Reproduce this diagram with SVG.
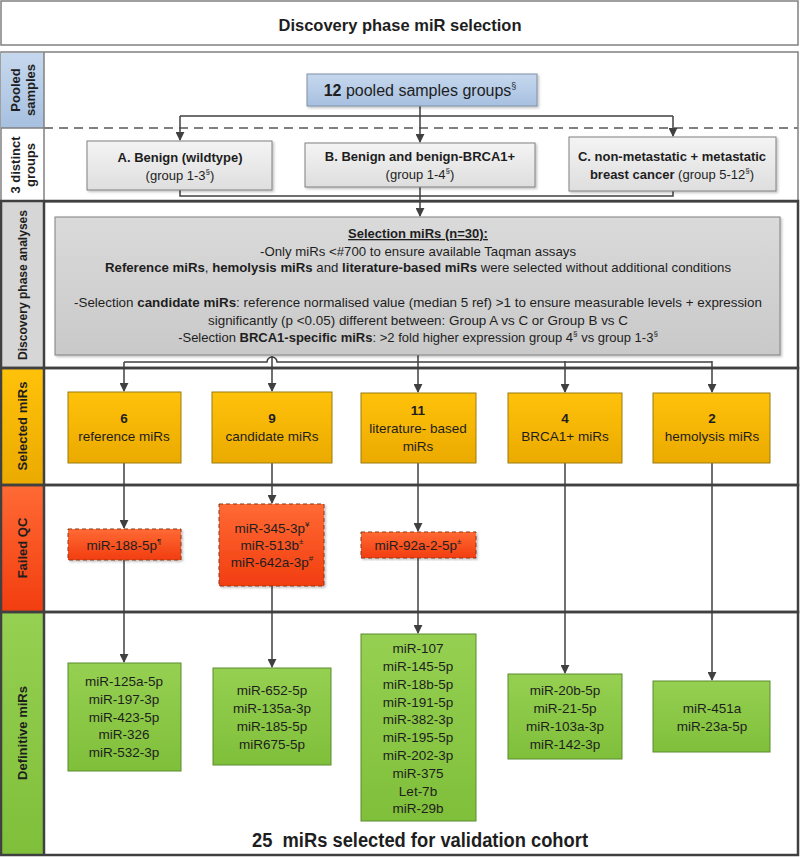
<svg xmlns="http://www.w3.org/2000/svg" width="800" height="857" viewBox="0 0 800 857">
<defs>
<style>
text{font-family:"Liberation Sans",Arial,sans-serif;fill:#1e1e1e;text-anchor:middle}
.lbl{font-weight:bold;font-size:13px}
.t{font-size:13.5px}
.g{font-size:13px}
.b{font-weight:bold}
.frame{fill:none;stroke:#808080;stroke-width:1.5}
.thick{fill:none;stroke:#404040;stroke-width:2.5}
.con{fill:none;stroke:#404040;stroke-width:1.5}
.arr{fill:none;stroke:#404040;stroke-width:1.5;marker-end:url(#ah)}
.grp{fill:url(#gGray);stroke:#808080;stroke-width:1}
.sel{fill:url(#gGold);stroke:#9a7b10;stroke-width:1}
.fail{fill:url(#gRed);stroke:#8c3a1c;stroke-width:1;stroke-dasharray:4,3}
.def{fill:url(#gGreen);stroke:#5b8c2e;stroke-width:1}
</style>
<marker id="ah" viewBox="0 0 10 10" refX="9" refY="5" markerWidth="6" markerHeight="6" orient="auto" markerUnits="strokeWidth"><path d="M0,0 L10,5 L0,10 z" fill="#404040"/></marker>
<linearGradient id="gGray" x1="0" y1="0" x2="0" y2="1"><stop offset="0" stop-color="#f4f4f4"/><stop offset="1" stop-color="#dedede"/></linearGradient>
<linearGradient id="gAna" x1="0" y1="0" x2="0" y2="1"><stop offset="0" stop-color="#dadada"/><stop offset="1" stop-color="#c9c9c9"/></linearGradient>
<linearGradient id="gBlue" x1="0" y1="0" x2="0" y2="1"><stop offset="0" stop-color="#c6d8ee"/><stop offset="1" stop-color="#a7c0e0"/></linearGradient>
<linearGradient id="gGold" x1="0" y1="0" x2="0" y2="1"><stop offset="0" stop-color="#ffc20a"/><stop offset="1" stop-color="#ebaa00"/></linearGradient>
<linearGradient id="gRed" x1="0" y1="0" x2="0" y2="1"><stop offset="0" stop-color="#ff6a34"/><stop offset="1" stop-color="#f23d10"/></linearGradient>
<linearGradient id="gGreen" x1="0" y1="0" x2="0" y2="1"><stop offset="0" stop-color="#96d052"/><stop offset="1" stop-color="#7fbf3a"/></linearGradient>
<filter id="sh" x="-5%" y="-5%" width="110%" height="115%"><feDropShadow dx="1.5" dy="1.5" stdDeviation="1" flood-color="#000" flood-opacity="0.25"/></filter>
</defs>
<rect width="800" height="857" fill="#ffffff"/>

<g id="title">
<rect x="1" y="1" width="797" height="44" class="frame"/>
<text x="400" y="31" font-size="16.5" class="b">Discovery phase miR selection</text>
</g>

<g id="frame">
<rect x="1" y="52" width="797" height="150" class="frame"/>
<rect x="1" y="53" width="43" height="75" fill="url(#gBlue)"/>
<rect x="1" y="201" width="43" height="167" fill="#d6d6d6"/>
<rect x="1" y="368" width="43" height="117" fill="url(#gGold)"/>
<rect x="1" y="485" width="43" height="127" fill="url(#gRed)"/>
<rect x="1" y="612" width="43" height="243" fill="url(#gGreen)"/>
<line x1="44" y1="52" x2="44" y2="201" stroke="#808080" stroke-width="1.5"/>
<line x1="1" y1="128" x2="44" y2="128" stroke="#808080" stroke-width="1.5"/>
<line x1="44" y1="128" x2="798" y2="128" stroke="#808080" stroke-width="2" stroke-dasharray="9,6"/>
<rect x="1" y="201" width="797" height="167" class="thick"/>
<rect x="1" y="368" width="797" height="117" class="thick"/>
<rect x="1" y="485" width="797" height="127" class="thick"/>
<rect x="1" y="612" width="797" height="243" class="thick"/>
<line x1="44" y1="201" x2="44" y2="855" stroke="#404040" stroke-width="2.5"/>
</g>

<g id="row-labels">
<text class="lbl" transform="translate(22,90) rotate(-90)"><tspan x="0" y="-2">Pooled</tspan><tspan x="0" y="13">samples</tspan></text>
<text class="lbl" transform="translate(22,165) rotate(-90)"><tspan x="0" y="-2">3 distinct</tspan><tspan x="0" y="13">groups</tspan></text>
<text class="lbl" transform="translate(22,285) rotate(-90)" y="5" textLength="150" lengthAdjust="spacingAndGlyphs">Discovery phase analyses</text>
<text class="lbl" transform="translate(22,426) rotate(-90)" y="5">Selected miRs</text>
<text class="lbl" transform="translate(22,548) rotate(-90)" y="5">Failed QC</text>
<text class="lbl" transform="translate(22,733) rotate(-90)" y="5">Definitive miRs</text>
</g>

<g id="connectors">
<path class="con" d="M420,106 V116 M180,116 H673"/>
<path class="arr" d="M180,116 V140"/>
<path class="arr" d="M420,116 V142"/>
<path class="arr" d="M673,116 V136"/>
<path class="con" d="M180,190 V196 H420 M673,191 V196 H420"/>
<path class="arr" d="M420,187 V216"/>
<path class="con" d="M418,355 V361 M124,362 H267 A5,5 0 0 1 277,362 H712"/>
<path class="arr" d="M124,362 V391"/>
<path class="arr" d="M272,356 V391"/>
<path class="arr" d="M418,361 V392"/>
<path class="arr" d="M565,361 V392"/>
<path class="arr" d="M712,361 V392"/>
<path class="arr" d="M124,463 V528"/>
<path class="arr" d="M272,463 V503"/>
<path class="arr" d="M418,463 V531"/>
<path class="arr" d="M124,560 V662"/>
<path class="arr" d="M272,586 V667"/>
<path class="arr" d="M418,558 V633"/>
<path class="arr" d="M565,463 V673"/>
<path class="arr" d="M712,463 V680"/>
</g>

<g id="pooled">
<rect x="307" y="74" width="230" height="32" fill="url(#gBlue)" stroke="#7f8fa6" stroke-width="1" filter="url(#sh)"/>
<text x="420" y="96" font-size="16"><tspan class="b">12</tspan> pooled samples groups<tspan font-size="9" dy="-7">§</tspan></text>
</g>

<g id="groupA">
<rect x="87" y="141" width="185" height="49" class="grp" filter="url(#sh)"/>
<text x="180" y="162" class="g b">A. Benign (wildtype)</text>
<text x="180" y="180" class="g">(group 1-3<tspan font-size="8" dy="-6">§</tspan><tspan dy="6">)</tspan></text>
</g>
<g id="groupB">
<rect x="305" y="143" width="230" height="44" class="grp" filter="url(#sh)"/>
<text x="420" y="161" class="g b">B. Benign and benign-BRCA1+</text>
<text x="420" y="179" class="g">(group 1-4<tspan font-size="8" dy="-6">§</tspan><tspan dy="6">)</tspan></text>
</g>
<g id="groupC">
<rect x="569" y="137" width="207" height="54" class="grp" filter="url(#sh)"/>
<text x="672" y="161" class="g b">C. non-metastatic + metastatic</text>
<text x="672" y="179" class="g"><tspan class="b">breast cancer</tspan> (group 5-12<tspan font-size="8" dy="-6">§</tspan><tspan dy="6">)</tspan></text>
</g>

<g id="analysis">
<rect x="55" y="217" width="725" height="138" fill="url(#gAna)" stroke="#808080" stroke-width="1" filter="url(#sh)"/>
<text x="418" y="238" class="g b" text-decoration="underline">Selection miRs (n=30):</text>
<text x="418" y="256" class="g" textLength="316" lengthAdjust="spacingAndGlyphs">-Only miRs &lt;#700 to ensure available Taqman assays</text>
<text x="418" y="272" class="g" textLength="626" lengthAdjust="spacingAndGlyphs"><tspan class="b">Reference miRs</tspan>, <tspan class="b">hemolysis miRs</tspan> and <tspan class="b">literature-based miRs</tspan> were selected without additional conditions</text>
<text x="418" y="307" class="g" textLength="688" lengthAdjust="spacingAndGlyphs">-Selection <tspan class="b">candidate miRs</tspan>: reference normalised value (median 5 ref) &gt;1 to ensure measurable levels + expression</text>
<text x="418" y="325" class="g" textLength="420" lengthAdjust="spacingAndGlyphs">significantly (p &lt;0.05) different between: Group A vs C or Group B vs C</text>
<text x="418" y="342" class="g">-Selection <tspan class="b">BRCA1-specific miRs</tspan>: &gt;2 fold higher expression group 4<tspan font-size="8" dy="-6">§</tspan><tspan dy="6"> vs group 1-3</tspan><tspan font-size="8" dy="-6">§</tspan></text>
</g>

<g id="sel-ref">
<rect x="68" y="392" width="113" height="71" class="sel"/>
<text x="124" y="423" class="t b">6</text>
<text x="124" y="441" class="t">reference miRs</text>
</g>
<g id="sel-cand">
<rect x="212" y="392" width="120" height="71" class="sel"/>
<text x="272" y="423" class="t b">9</text>
<text x="272" y="441" class="t">candidate miRs</text>
</g>
<g id="sel-lit">
<rect x="361" y="393" width="115" height="70" class="sel"/>
<text x="418" y="415" class="t b">11</text>
<text x="418" y="433" class="t">literature- based</text>
<text x="418" y="451" class="t">miRs</text>
</g>
<g id="sel-brca">
<rect x="508" y="393" width="114" height="70" class="sel"/>
<text x="565" y="423" class="t b">4</text>
<text x="565" y="441" class="t">BRCA1+ miRs</text>
</g>
<g id="sel-hemo">
<rect x="653" y="393" width="117" height="70" class="sel"/>
<text x="712" y="423" class="t b">2</text>
<text x="712" y="441" class="t">hemolysis miRs</text>
</g>

<g id="fail-ref">
<rect x="68" y="529" width="113" height="31" class="fail" filter="url(#sh)"/>
<text x="124" y="550" class="t">miR-188-5p<tspan font-size="8" dy="-6">¶</tspan></text>
</g>
<g id="fail-cand">
<rect x="219" y="504" width="105" height="82" class="fail" filter="url(#sh)"/>
<text x="272" y="533" class="t">miR-345-3p<tspan font-size="8" dy="-6">¥</tspan></text>
<text x="272" y="550" class="t">miR-513b<tspan font-size="8" dy="-6">±</tspan></text>
<text x="272" y="567" class="t">miR-642a-3p<tspan font-size="8" dy="-6">#</tspan></text>
</g>
<g id="fail-lit">
<rect x="361" y="532" width="115" height="26" class="fail" filter="url(#sh)"/>
<text x="418" y="550" class="t">miR-92a-2-5p<tspan font-size="8" dy="-6">±</tspan></text>
</g>

<g id="def-ref">
<rect x="68" y="663" width="113" height="108" class="def"/>
<text x="124" y="686" class="t">miR-125a-5p</text>
<text x="124" y="704" class="t">miR-197-3p</text>
<text x="124" y="722" class="t">miR-423-5p</text>
<text x="124" y="739" class="t">miR-326</text>
<text x="124" y="757" class="t">miR-532-3p</text>
</g>
<g id="def-cand">
<rect x="213" y="668" width="118" height="97" class="def"/>
<text x="272" y="695" class="t">miR-652-5p</text>
<text x="272" y="713" class="t">miR-135a-3p</text>
<text x="272" y="731" class="t">miR-185-5p</text>
<text x="272" y="749" class="t">miR675-5p</text>
</g>
<g id="def-lit">
<rect x="361" y="634" width="115" height="187" class="def"/>
<text x="418" y="653" class="t">miR-107</text>
<text x="418" y="671" class="t">miR-145-5p</text>
<text x="418" y="689" class="t">miR-18b-5p</text>
<text x="418" y="707" class="t">miR-191-5p</text>
<text x="418" y="724" class="t">miR-382-3p</text>
<text x="418" y="742" class="t">miR-195-5p</text>
<text x="418" y="760" class="t">miR-202-3p</text>
<text x="418" y="778" class="t">miR-375</text>
<text x="418" y="796" class="t">Let-7b</text>
<text x="418" y="813" class="t">miR-29b</text>
</g>
<g id="def-brca">
<rect x="508" y="674" width="114" height="85" class="def"/>
<text x="565" y="695" class="t">miR-20b-5p</text>
<text x="565" y="713" class="t">miR-21-5p</text>
<text x="565" y="731" class="t">miR-103a-3p</text>
<text x="565" y="749" class="t">miR-142-3p</text>
</g>
<g id="def-hemo">
<rect x="653" y="681" width="117" height="71" class="def"/>
<text x="712" y="713" class="t">miR-451a</text>
<text x="712" y="731" class="t">miR-23a-5p</text>
</g>

<g id="summary">
<text x="420" y="847" font-size="20" class="b" textLength="336" lengthAdjust="spacingAndGlyphs" xml:space="preserve">25  miRs selected for validation cohort</text>
</g>
</svg>
